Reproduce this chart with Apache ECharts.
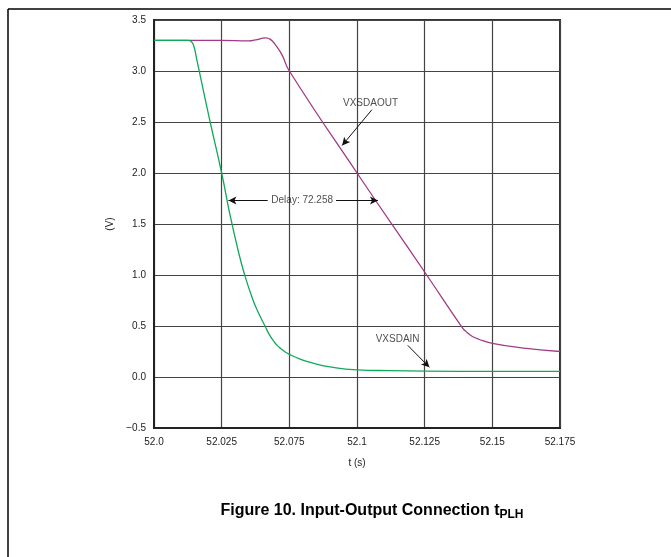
<!DOCTYPE html>
<html>
<head>
<meta charset="utf-8">
<script src="https://cdn.jsdelivr.net/npm/echarts@6/dist/echarts.min.js"></script>
<style>
html,body{margin:0;padding:0;background:#fff;}
#c{width:671px;height:557px;}
</style>
</head>
<body>
<div id="c"></div>
<script>
// x in grid divisions (tick index), y in volts
const tickLabels = ['52.0','52.025','52.075','52.1','52.125','52.15','52.175'];
const vxsdainX = [0,0.5,0.55,0.59,0.63,0.7,0.83,1.0,1.12,1.24,1.34,1.46,1.55,1.64,1.7,1.76,1.82,1.88,1.94,2.0,2.16,2.3,2.6,3.0,3.5,4.0,5.0,6.0];
const vxsdainY = [3.3,3.3,3.29,3.24,3.12,2.9,2.5,2.0,1.6,1.25,1.0,0.76,0.62,0.5,0.42,0.36,0.31,0.275,0.245,0.222,0.175,0.145,0.1,0.07,0.062,0.058,0.055,0.055];
const vxsdaoutX = [0,1.0,1.4,1.5,1.65,1.72,1.79,1.89,2.0,3.0,4.03,4.55,4.62,4.7,4.8,5.0,5.5,6.0];
const vxsdaoutY = [3.3,3.3,3.295,3.305,3.325,3.31,3.26,3.16,3.0,2.0,1.0,0.49,0.44,0.40,0.37,0.33,0.28,0.25];
const annoText = ['VXSDAOUT','Delay: 72.258','VXSDAIN'];
const annoPos = [[3.2,2.68],[2.19,1.73],[3.6,0.37]];
const arrows = [
  [[3.22,2.62],[2.78,2.27]],
  [[1.68,1.73],[1.1,1.73]],
  [[2.69,1.73],[3.31,1.73]],
  [[3.75,0.31],[4.07,0.095]]
];

const zip = (a,b)=>a.map((v,i)=>[v,b[i]]);
const FONT = '"Liberation Sans", Arial, sans-serif';
const chart = echarts.init(document.getElementById('c'));
chart.setOption({
  animation:false,
  backgroundColor:'#fff',
  textStyle:{fontFamily:FONT},
  grid:{left:154,right:111,top:20,bottom:129,show:true,borderColor:'#333',borderWidth:2,backgroundColor:'transparent'},
  xAxis:{
    type:'value',min:0,max:6,interval:1,
    name:'t (s)',nameLocation:'middle',nameGap:30,
    nameTextStyle:{fontSize:10,color:'#222',fontFamily:FONT},
    axisLine:{show:true,onZero:false,lineStyle:{color:'#222',width:2}},
    axisTick:{show:false},
    axisLabel:{fontSize:10,color:'#222',margin:9,fontFamily:FONT,formatter:v=>tickLabels[Math.round(v)]},
    splitLine:{show:true,lineStyle:{color:'#444',width:1.2}}
  },
  yAxis:{
    type:'value',min:-0.5,max:3.5,interval:0.5,
    name:'(V)',nameLocation:'middle',nameGap:38,nameRotate:90,
    nameTextStyle:{fontSize:10,color:'#222',fontFamily:FONT},
    axisLine:{show:true,onZero:false,lineStyle:{color:'#222',width:2}},
    axisTick:{show:false},
    axisLabel:{fontSize:10,color:'#222',margin:8,fontFamily:FONT,formatter:v=>v.toFixed(1).replace('-','\u2212')},
    splitLine:{show:true,lineStyle:{color:'#444',width:1.2}}
  },
  series:[
    {name:'VXSDAOUT',type:'line',data:zip(vxsdaoutX,vxsdaoutY),showSymbol:false,smooth:0.5,
      lineStyle:{color:'#a23a85',width:1.3},
      markLine:{silent:true,symbol:['none','arrow'],symbolSize:[6,8],
        label:{show:false},lineStyle:{color:'#111',width:1,type:'solid'},
        data:arrows.map(a=>[{coord:a[0]},{coord:a[1]}])}},
    {name:'VXSDAIN',type:'line',data:zip(vxsdainX,vxsdainY),showSymbol:false,smooth:0.5,
      lineStyle:{color:'#10a85a',width:1.3}},
    {name:'anno',type:'scatter',symbolSize:0.1,itemStyle:{color:'rgba(0,0,0,0)'},
      data:annoText.map((t,i)=>({name:t,value:annoPos[i]})),
      label:{show:true,position:'inside',formatter:p=>p.name,fontSize:10,color:'#222',fontFamily:FONT}}
  ],
  graphic:[
    {type:'line',shape:{x1:8,y1:9,x2:671,y2:9},style:{stroke:'#000',lineWidth:1.5}},
    {type:'line',shape:{x1:8,y1:9,x2:8,y2:557},style:{stroke:'#000',lineWidth:1.5}},
    {type:'text',x:372,y:511,style:{
      text:'{m|Figure 10. Input-Output Connection t}{s|PLH}',
      align:'center',verticalAlign:'middle',
      rich:{m:{fontSize:16,fontWeight:'bold',fontFamily:FONT,fill:'#000'},
            s:{fontSize:12,fontWeight:'bold',fontFamily:FONT,fill:'#000',padding:[8,0,0,0]}}
    }}
  ]
});
</script>
</body>
</html>
